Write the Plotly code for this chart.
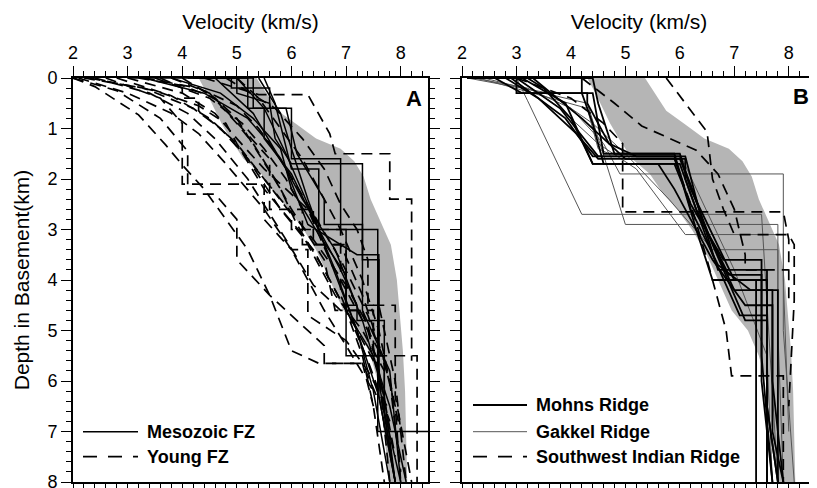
import plotly.graph_objects as go

# ---------------- data (velocity km/s, depth km) ----------------
X_TICKS = [2, 3, 4, 5, 6, 7, 8]
Y_TICKS = [0, 1, 2, 3, 4, 5, 6, 7, 8]

# grey reference envelope (same in both panels)
BAND_LEFT_D = [0, 0.3, 0.9, 1.2, 1.6, 1.9, 2.3, 2.6, 3.0, 3.4, 3.8, 4.2, 4.6, 5.0, 5.5, 6.0, 8.0]
BAND_LEFT_V = [4.30, 4.45, 4.72, 4.88, 5.12, 5.45, 5.70, 5.95, 6.22, 6.45, 6.62, 6.78, 6.95, 7.25, 7.45, 7.58, 7.80]
BAND_RIGHT_D = [0, 0.65, 0.92, 1.2, 1.4, 1.65, 1.95, 2.4, 2.8, 3.3, 4.0, 4.6, 5.4, 6.2, 8.0]
BAND_RIGHT_V = [5.36, 5.75, 6.10, 6.45, 6.90, 7.15, 7.32, 7.45, 7.62, 7.82, 7.93, 7.98, 8.04, 8.08, 8.12]

# Panel A - Mesozoic FZ (solid)
MESOZOIC_V = [
    [4.2, 5.0, 5.0, 5.6, 5.7, 6.0, 7.3, 7.3, 7.6, 7.6, 7.9],
    [4.5, 5.3, 5.3, 5.9, 6.1, 6.6, 6.6, 7.3, 7.3, 7.8, 8.0],
    [5.0, 5.5, 5.9, 6.3, 6.8, 7.2, 7.6, 7.9],
    [5.4, 5.8, 6.0, 6.3, 6.7, 7.2, 7.5, 7.8],
    [3.3, 4.4, 5.2, 5.6, 5.9, 6.2, 6.8, 7.3, 7.7, 7.9],
    [3.0, 4.9, 4.9, 5.6, 5.6, 6.0, 6.0, 6.9, 6.9, 7.58, 7.58, 8.6],
    [4.1, 5.2, 5.2, 5.5, 5.5, 6.0, 6.4, 6.9, 7.2, 7.2, 7.7, 7.7, 8.0],
    [3.8, 4.7, 5.3, 5.8, 6.0, 6.5, 7.0, 7.0, 7.5, 7.8, 8.1],
    [4.6, 5.3, 5.9, 6.3, 7.2, 7.6, 7.6, 7.9],
    [5.5, 5.7, 6.0, 6.5, 6.5, 7.0, 7.0, 7.7, 7.7, 7.9],
]
MESOZOIC_D = [
    [0, 0, 0.3, 0.5, 1.2, 1.7, 1.7, 3.6, 3.6, 6.3, 8.0],
    [0, 0, 0.6, 0.6, 1.5, 2.4, 2.9, 2.9, 4.6, 5.8, 8.0],
    [0, 0.6, 1.5, 2.5, 3.8, 5.0, 6.3, 8.0],
    [0, 0.7, 1.4, 2.4, 3.6, 5.0, 6.2, 8.0],
    [0, 0.3, 0.8, 1.3, 1.8, 2.4, 3.4, 4.8, 6.3, 8.0],
    [0, 0, 0.2, 0.2, 0.6, 0.6, 1.6, 1.6, 3.0, 3.0, 7.0, 7.0],
    [0, 0, 0.6, 0.6, 1.2, 1.9, 2.8, 3.8, 4.5, 4.8, 4.8, 6.6, 8.0],
    [0, 0.3, 0.8, 1.4, 2.2, 3.1, 3.9, 4.6, 5.5, 6.5, 8.0],
    [0, 0.7, 1.8, 2.9, 3.5, 3.5, 6.0, 8.0],
    [0, 0.5, 1.8, 1.8, 3.0, 3.0, 5.5, 5.5, 6.6, 8.0],
]

# Panel A - Young FZ (dashed)
YOUNG_V = [
    [2.0, 2.4, 3.2, 3.7, 4.0, 4.4, 4.8, 5.2, 5.6, 6.0, 6.5, 7.3, 7.5],
    [2.1, 3.0, 3.8, 4.3, 4.8, 5.5, 6.0, 6.6, 7.0, 7.5],
    [2.3, 3.5, 4.3, 4.8, 5.0, 5.5, 6.2, 6.8, 7.3, 7.7],
    [2.6, 3.6, 4.0, 4.0, 5.5, 5.5, 6.0, 6.3, 6.3, 7.0, 7.4, 7.8],
    [3.0, 4.0, 4.6, 5.0, 5.5, 6.3, 6.7, 7.2, 7.7, 8.0],
    [3.3, 4.3, 5.0, 5.4, 5.8, 6.3, 6.9, 7.4, 7.8, 8.0],
    [3.6, 4.0, 4.0, 4.3, 4.3, 4.8, 5.2, 5.5, 5.8, 6.4, 7.0, 7.6, 7.9],
    [4.4, 5.4, 6.3, 6.7, 6.8, 7.8, 7.8, 8.2, 8.2],
    [2.0, 2.8, 3.6, 4.1, 4.1, 4.6, 5.0, 5.0, 5.6, 6.3, 6.6, 6.6, 7.3, 7.6],
    [4.0, 4.6, 5.1, 5.6, 5.6, 6.4, 6.4, 7.0, 7.0, 7.6, 7.9, 8.1],
    [2.8, 3.8, 4.5, 5.0, 5.5, 6.0, 6.0, 6.9, 6.9, 7.4, 7.8],
    [3.2, 4.0, 4.6, 5.0, 5.4, 5.8, 6.1, 6.6, 7.0, 7.3, 7.5, 7.7],
    [4.8, 5.7, 6.2, 6.6, 6.9, 7.2, 7.4, 7.4, 7.9, 7.9, 8.2],
    [2.2, 3.3, 4.2, 4.7, 5.2, 5.8, 6.4, 7.0, 7.4, 7.6, 7.8],
    [3.8, 4.5, 5.0, 5.3, 5.7, 6.0, 6.6, 6.8, 7.3, 7.6, 7.8],
    [5.0, 5.4, 5.8, 6.2, 6.5, 6.9, 7.3, 7.6, 7.9, 8.0],
    [2.4, 3.4, 4.1, 4.6, 5.2, 5.9, 6.4, 6.9, 7.5, 7.5, 8.3, 8.3],
    [3.5, 4.5, 5.1, 5.5, 5.9, 6.2, 6.2, 6.9, 7.3, 7.7],
]
YOUNG_D = [
    [0, 0.17, 0.73, 1.33, 1.72, 2.2, 2.8, 3.4, 4.3, 5.4, 5.65, 5.65, 6.5],
    [0, 0.3, 0.7, 1.1, 1.7, 2.6, 3.4, 4.6, 5.3, 6.2],
    [0, 0.25, 0.55, 0.9, 1.3, 2.2, 3.1, 4.3, 5.0, 5.8],
    [0, 0.4, 0.9, 2.1, 2.1, 2.8, 3.4, 3.4, 4.7, 5.2, 5.8, 6.6],
    [0, 0.3, 0.7, 1.2, 1.8, 2.6, 3.6, 4.6, 5.6, 7.0],
    [0, 0.2, 0.55, 1.0, 1.6, 2.5, 3.6, 4.7, 6.0, 7.8],
    [0, 0.2, 0.4, 0.4, 0.65, 1.1, 1.6, 2.1, 2.6, 3.4, 4.6, 5.8, 7.5],
    [0, 0.33, 0.33, 1.1, 1.5, 1.5, 2.4, 2.4, 5.6],
    [0, 0.25, 0.8, 1.45, 2.3, 2.3, 2.8, 3.6, 4.3, 5.0, 5.3, 5.65, 5.65, 6.4],
    [0, 0.4, 1.0, 1.6, 2.6, 2.6, 3.3, 3.3, 4.5, 4.5, 6.0, 8.0],
    [0, 0.35, 0.8, 1.3, 2.0, 2.7, 3.0, 3.0, 4.3, 5.6, 6.8],
    [0, 0.15, 0.4, 0.8, 1.5, 2.2, 2.9, 3.8, 4.6, 5.5, 6.5, 8.0],
    [0, 0.6, 1.2, 1.8, 2.5, 3.0, 3.6, 4.5, 4.5, 6.3, 8.0],
    [0, 0.2, 0.6, 1.0, 1.6, 2.4, 3.2, 4.1, 4.9, 5.8, 7.0],
    [0, 0.3, 0.9, 1.3, 2.0, 2.6, 3.6, 4.6, 4.6, 5.8, 8.0],
    [0, 0.4, 1.0, 1.6, 2.2, 3.0, 4.0, 5.0, 6.5, 8.0],
    [0, 0.3, 0.7, 1.2, 2.0, 3.2, 4.1, 4.6, 4.6, 5.5, 5.5, 8.0],
    [0, 0.4, 0.9, 1.4, 2.0, 2.6, 3.3, 3.3, 4.3, 5.6],
]

# Panel B - Mohns Ridge (thick solid)
MOHNS_V = [
    [2.2, 2.6, 3.1, 4.4, 4.6, 6.0, 6.2, 7.0, 7.6, 7.6, 7.8],
    [2.1, 4.2, 4.2, 4.4, 4.6, 5.9, 6.2, 6.8, 7.5, 7.5, 7.7],
    [2.1, 3.0, 3.8, 4.5, 6.1, 6.4, 7.0, 7.7, 7.7, 7.9],
    [2.1, 3.2, 3.5, 4.0, 4.4, 5.6, 5.9, 6.6, 7.2, 7.7, 7.7, 7.9],
    [2.1, 2.8, 3.4, 4.1, 4.5, 6.0, 6.6, 7.2, 7.6, 7.6],
    [2.1, 3.0, 3.0, 4.3, 4.3, 4.7, 5.2, 6.0, 6.3, 6.7, 7.6, 7.6, 7.8],
    [2.1, 4.4, 4.5, 4.8, 5.9, 6.2, 6.7, 7.3, 7.8, 7.8],
    [2.1, 3.1, 3.9, 4.4, 6.0, 6.3, 6.9, 7.5, 7.5, 7.7],
    [2.1, 3.3, 4.2, 4.7, 5.0, 6.1, 6.1, 6.6, 7.1, 7.6, 7.6],
    [2.1, 2.9, 3.9, 4.4, 5.9, 6.3, 6.6, 7.4, 7.4],
]
MOHNS_D = [
    [0, 0, 0.3, 0.3, 1.5, 1.5, 2.2, 4.0, 4.0, 6.5, 8.0],
    [0, 0, 0.3, 0.9, 1.7, 1.7, 2.5, 3.6, 3.6, 6.0, 8.0],
    [0, 0, 0.6, 1.55, 1.55, 2.8, 4.2, 4.2, 6.0, 8.0],
    [0, 0, 0.2, 0.8, 1.7, 1.7, 2.2, 3.6, 4.5, 4.5, 7.0, 8.0],
    [0, 0, 0.4, 1.1, 1.6, 1.6, 3.3, 4.8, 4.8, 8.0],
    [0, 0, 0.3, 0.3, 0.5, 1.3, 1.55, 1.55, 2.4, 3.8, 3.8, 6.5, 8.0],
    [0, 0, 0.5, 1.5, 1.5, 2.6, 3.7, 4.2, 4.2, 8.0],
    [0, 0, 0.5, 1.7, 1.7, 2.6, 3.9, 3.9, 5.5, 8.0],
    [0, 0, 0.8, 1.3, 1.6, 1.6, 2.0, 3.5, 4.7, 4.7, 8.0],
    [0, 0, 0.8, 1.55, 1.55, 3.0, 4.0, 4.0, 8.0],
]

# Panel B - Gakkel Ridge (thin grey)
GAKKEL_V = [
    [2.6, 3.0, 3.2, 4.2, 7.5, 7.6, 7.8],
    [2.4, 3.5, 4.3, 4.5, 5.0, 7.8, 7.8, 7.9],
    [2.2, 3.2, 4.0, 4.6, 4.9, 7.9, 7.9, 8.0],
    [2.1, 3.0, 3.8, 4.5, 5.2, 6.1, 7.9, 7.9, 8.1],
    [2.1, 3.6, 4.4, 5.0, 5.8, 6.6, 7.8, 7.8],
    [2.3, 3.3, 4.3, 4.5, 4.7, 6.0, 6.3, 7.0, 7.6, 7.7],
]
GAKKEL_D = [
    [0, 0, 0.44, 2.7, 2.7, 4.5, 8.0],
    [0, 0.3, 0.5, 1.2, 2.9, 2.9, 5.0, 8.0],
    [0, 0.2, 0.6, 1.3, 1.9, 1.9, 4.0, 7.0],
    [0, 0, 0.6, 1.3, 1.8, 3.1, 3.1, 5.0, 8.0],
    [0, 0.3, 0.9, 1.5, 2.4, 3.4, 3.4, 8.0],
    [0, 0.3, 0.6, 1.4, 1.5, 1.5, 2.2, 3.8, 5.5, 8.0],
]

# Panel B - Southwest Indian Ridge (dashed)
SWIR_V = [
    [5.75, 6.5, 6.6, 6.8, 7.0, 8.0, 8.1, 8.1, 8.0],
    [3.0, 4.0, 4.6, 4.95, 4.95, 7.9, 8.0, 8.0],
    [4.2, 4.8, 5.3, 6.3, 6.7, 7.0, 7.2, 7.2, 7.6, 8.0],
    [5.9, 6.2, 6.5, 6.7, 6.85, 6.95, 7.9, 7.9],
]
SWIR_D = [
    [0, 1.07, 2.0, 2.6, 3.1, 3.1, 3.3, 4.4, 6.5],
    [0, 0.4, 0.9, 1.3, 2.65, 2.65, 3.2, 4.5],
    [0, 0.5, 0.95, 1.43, 1.9, 2.6, 3.5, 3.8, 3.8, 3.8],
    [1.6, 2.5, 3.6, 4.4, 5.0, 5.9, 5.9, 8.0],
]

# ---------------- figure ----------------
# the page body has an 8 px margin, so figure pixels are page pixels minus 8
OFF = 8
W, H = 817 - OFF, 488
FONT = "Liberation Sans, Arial, sans-serif"
fig = go.Figure()

band_v = BAND_LEFT_V + BAND_RIGHT_V[::-1]
band_d = BAND_LEFT_D + BAND_RIGHT_D[::-1]
for xa, ya in (("x", "y"), ("x2", "y2")):
    fig.add_trace(go.Scatter(x=band_v, y=band_d, xaxis=xa, yaxis=ya, mode="lines",
                             fill="toself", fillcolor="#b5b5b5", line=dict(width=0),
                             hoverinfo="skip", showlegend=False))

DASH = "11px,7px"

def add_group(vs, ds, xa, ya, color, width, dash, name):
    for v, d in zip(vs, ds):
        fig.add_trace(go.Scatter(x=v, y=d, xaxis=xa, yaxis=ya, mode="lines",
                                 line=dict(color=color, width=width, dash=dash),
                                 name=name, showlegend=False))

add_group(YOUNG_V, YOUNG_D, "x", "y", "black", 1.7, DASH, "Young FZ")
add_group(MESOZOIC_V, MESOZOIC_D, "x", "y", "black", 1.5, "solid", "Mesozoic FZ")
add_group(GAKKEL_V, GAKKEL_D, "x2", "y2", "#555555", 1.0, "solid", "Gakkel Ridge")
add_group(SWIR_V, SWIR_D, "x2", "y2", "black", 1.7, DASH, "Southwest Indian Ridge")
add_group(MOHNS_V, MOHNS_D, "x2", "y2", "black", 1.8, "solid", "Mohns Ridge")

def px_x(p):
    return (p - OFF) / W

def px_y(p):
    return 1 - (p - OFF) / H

tickfont = dict(family=FONT, size=18, color="black")
common_x = dict(range=[2, 8.5], tickvals=X_TICKS, side="top", ticks="outside", ticklen=10,
                tickwidth=1.3, tickcolor="black", mirror="ticks", showline=True, linewidth=2,
                linecolor="black", showgrid=False, zeroline=False, tickfont=tickfont,
                automargin=False, ticklabeloverflow="allow",
                minor=dict(dtick=0.2, ticks="outside", ticklen=5, tickwidth=1, tickcolor="black"),
                title=dict(text="Velocity (km/s)", font=dict(family=FONT, size=21, color="black"),
                           standoff=7))
common_y = dict(range=[8, 0], tickvals=Y_TICKS, ticks="outside", ticklen=10, tickwidth=1.3,
                tickcolor="black", mirror="ticks", showline=True, linewidth=2, linecolor="black",
                showgrid=False, zeroline=False, tickfont=tickfont, automargin=False,
                ticklabeloverflow="allow",
                minor=dict(dtick=0.2, ticks="outside", ticklen=5, tickwidth=1, tickcolor="black"),
                domain=[px_y(482), px_y(78)])

fig.update_layout(
    width=W, height=H, margin=dict(l=0, r=0, t=0, b=0, autoexpand=False),
    paper_bgcolor="white", plot_bgcolor="white", showlegend=False,
    xaxis=dict(common_x, domain=[px_x(73), px_x(428)], anchor="y"),
    xaxis2=dict(common_x, domain=[px_x(462), px_x(816)], anchor="y2"),
    yaxis=dict(common_y, anchor="x",
               title=dict(text="Depth in Basement(km)", standoff=12,
                          font=dict(family=FONT, size=21, color="black"))),
    yaxis2=dict(common_y, anchor="x2", showticklabels=False),
)

# panel letters
bold = dict(family=FONT, size=22, color="black")
fig.add_annotation(text="<b>A</b>", xref="x domain", yref="y domain", x=0.99, y=0.985,
                   xanchor="right", yanchor="top", showarrow=False, font=bold)
fig.add_annotation(text="<b>B</b>", xref="x2 domain", yref="y2 domain", x=0.985, y=0.99,
                   xanchor="right", yanchor="top", showarrow=False, font=bold)

# legends (drawn in page pixels)
legfont = dict(family=FONT, size=18, color="black")
LEG_A = [("Mesozoic FZ", 431.7, "black", 1.5, "solid"), ("Young FZ", 456.7, "black", 1.7, "14px,11px")]
LEG_B = [("Mohns Ridge", 405, "black", 1.8, "solid"), ("Gakkel Ridge", 431.7, "#555555", 1.0, "solid"),
         ("Southwest Indian Ridge", 456.7, "black", 1.7, "14px,11px")]
for items, x0, x1, xt in ((LEG_A, 83, 138, 145), (LEG_B, 473, 527, 534)):
    for label, yy, col, wd, ds in items:
        fig.add_shape(type="line", xref="paper", yref="paper", x0=px_x(x0), x1=px_x(x1),
                      y0=px_y(yy), y1=px_y(yy), line=dict(color=col, width=wd, dash=ds))
        fig.add_annotation(text="<b>%s</b>" % label, xref="paper", yref="paper", x=px_x(xt),
                           y=px_y(yy), xanchor="left", yanchor="middle", showarrow=False, font=legfont)

fig.write_html("out.html")
